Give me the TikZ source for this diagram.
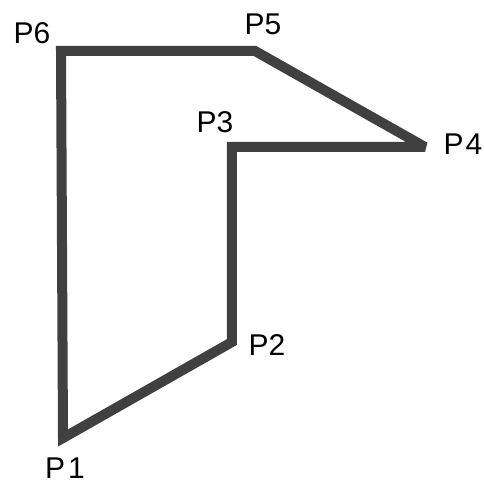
\documentclass[tikz,border=0pt]{standalone}
\usepackage{fontspec}
\setmainfont{Liberation Sans}
\usepackage{tikz}

\begin{document}
\begin{tikzpicture}[x=0.5pt, y=-0.5pt, every node/.style={font=\fontsize{15}{18}\selectfont, inner sep=0pt}, edge/.style={draw=black!75, line width=5pt, line join=miter, miter limit=2.5}]
	\useasboundingbox (0,0) rectangle (484,482);
	% corners of the outline
	\coordinate (p1) at (63,438);
	\coordinate (p2) at (232,342);
	\coordinate (p3) at (232,147);
	\coordinate (p4) at (425,147);
	\coordinate (p5) at (255,51);
	\coordinate (p6) at (61,51);
	\draw[edge] (p1) -- (p2) -- (p3) -- (p4) -- (p5) -- (p6) -- cycle;
	% labels
	\node (l1) at (65,468) {P\kern1.5pt1};
	\node (l2) at (267,345) {P2};
	\node (l3) at (215,122) {P3};
	\node (l4) at (463,144) {P\kern1pt4};
	\node (l5) at (263,24) {P5};
	\node (l6) at (32,33) {P6};
\end{tikzpicture}
\end{document}
